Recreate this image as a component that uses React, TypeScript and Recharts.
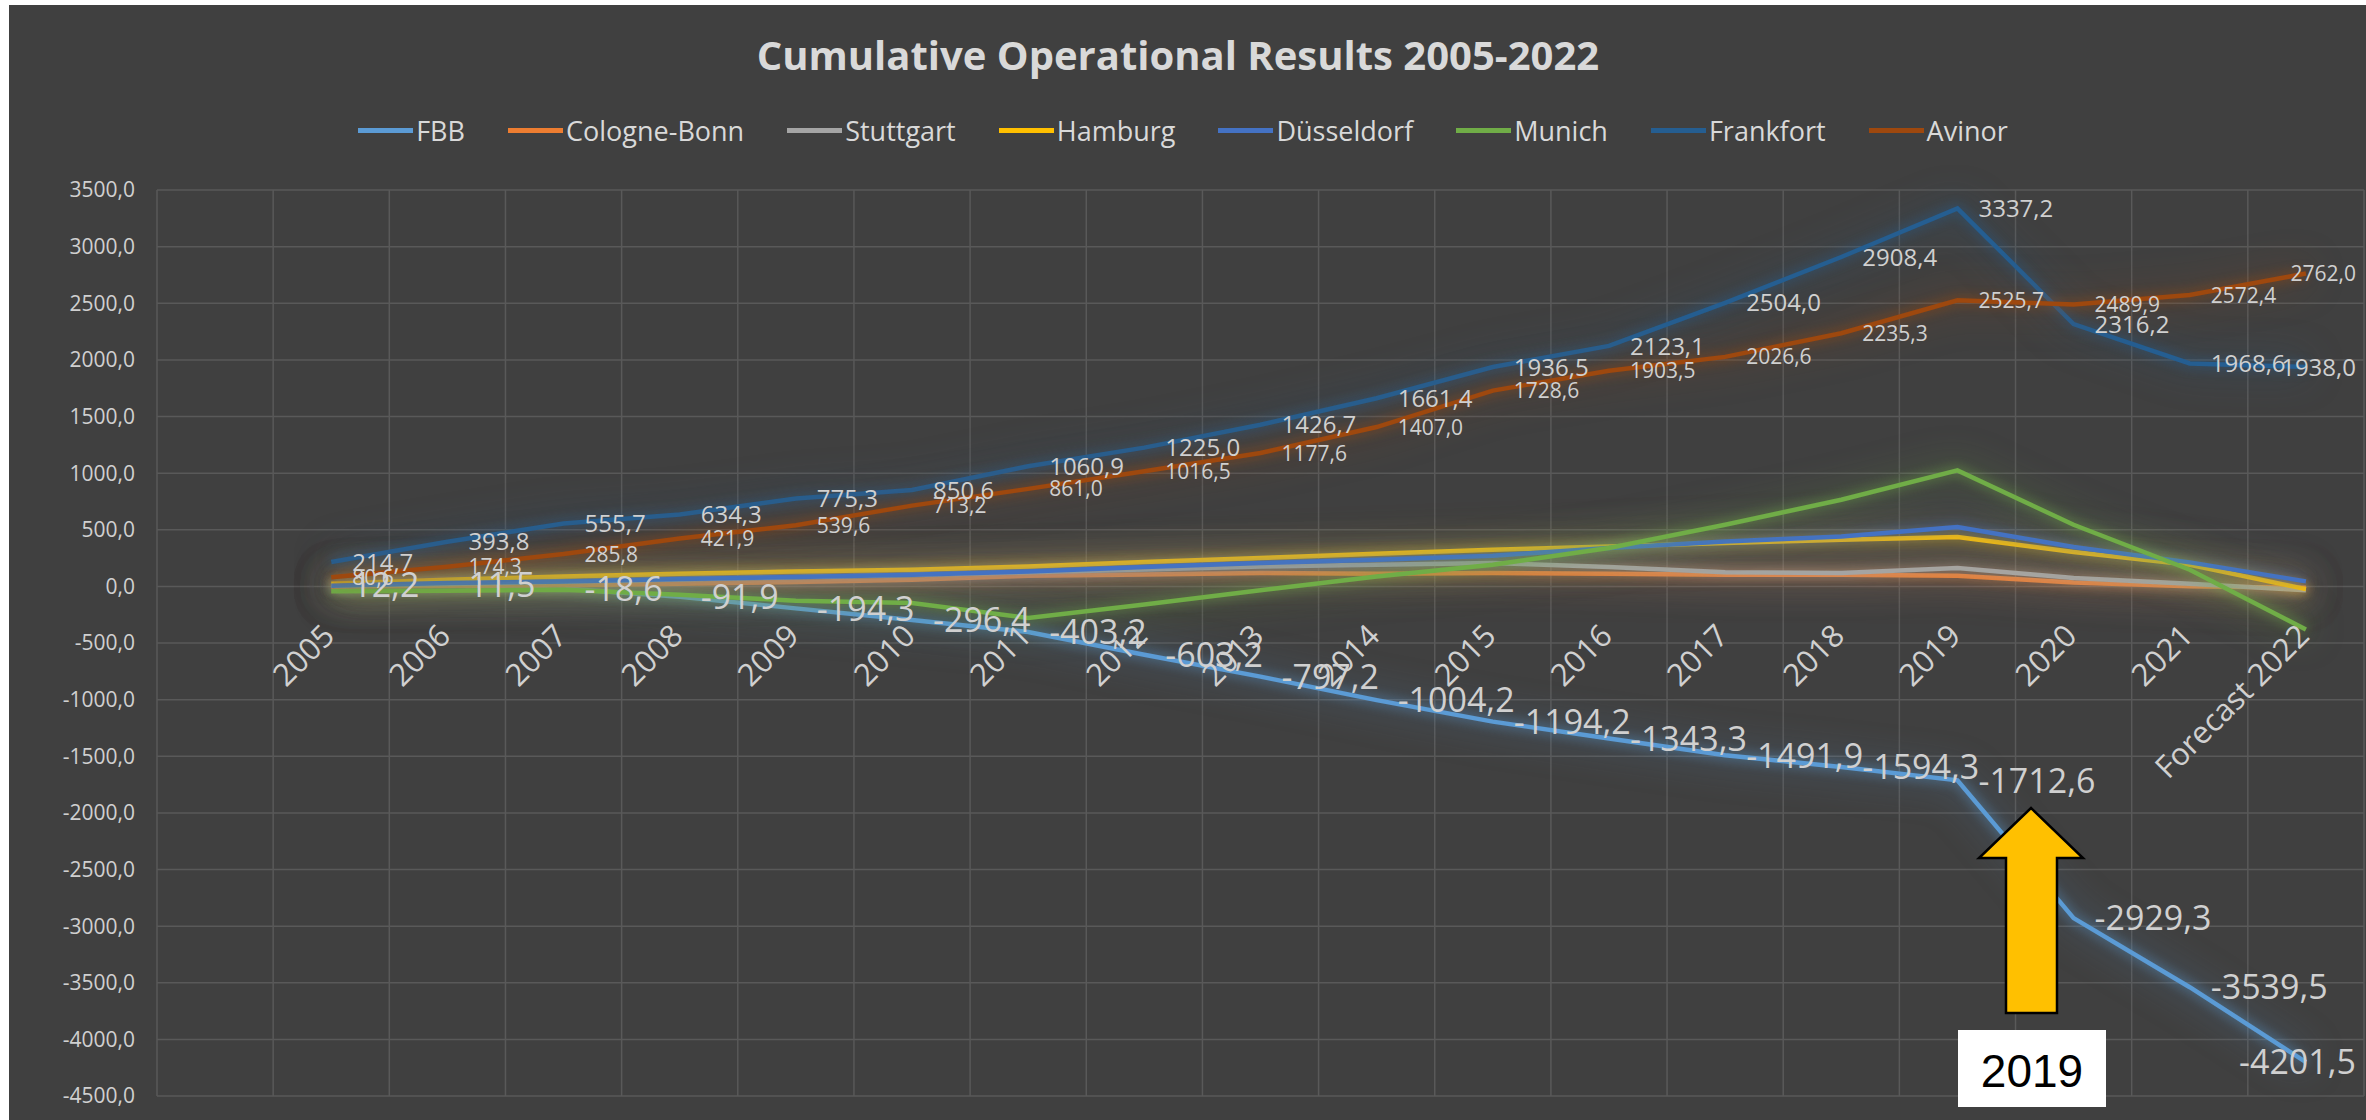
import React from 'react';
import { LineChart, Line, XAxis, YAxis, CartesianGrid, LabelList } from 'recharts';

// categories (first slot is an empty category, as in the source sheet)
const categories = [
  '', '2005', '2006', '2007', '2008', '2009', '2010', '2011', '2012', '2013',
  '2014', '2015', '2016', '2017', '2018', '2019', '2020', '2021', 'Forecast 2022',
];

const fbb = [null, 12.2, 11.5, -18.6, -91.9, -194.3, -296.4, -403.2, -603.2, -797.2, -1004.2, -1194.2, -1343.3, -1491.9, -1594.3, -1712.6, -2929.3, -3539.5, -4201.5];
const cologneBonn = [null, 0, 5, 9, 24, 38, 59, 94, 105, 118, 112, 118, 112, 103, 103, 94, 35, 0, -12];
const stuttgart = [null, 5, 20, 40, 60, 80, 100, 125, 150, 176, 191, 206, 171, 124, 118, 162, 74, 24, -35];
const hamburg = [null, 23, 59, 88, 112, 132, 147, 176, 215, 250, 288, 323, 353, 383, 412, 436, 303, 191, -24];
const dusseldorf = [null, 5, 29, 44, 65, 83, 103, 132, 170, 206, 235, 270, 339, 397, 441, 524, 347, 212, 44];
const munich = [null, -44, -38, -29, -73, -126, -147, -279, -160, -35, 88, 191, 339, 544, 765, 1024, 544, 147, -380];
const frankfort = [null, 214.7, 393.8, 555.7, 634.3, 775.3, 850.6, 1060.9, 1225.0, 1426.7, 1661.4, 1936.5, 2123.1, 2504.0, 2908.4, 3337.2, 2316.2, 1968.6, 1938.0];
const avinor = [null, 80.6, 174.3, 285.8, 421.9, 539.6, 713.2, 861.0, 1016.5, 1177.6, 1407.0, 1728.6, 1903.5, 2026.6, 2235.3, 2525.7, 2489.9, 2572.4, 2762.0];

const yTicks = [-4500, -4000, -3500, -3000, -2500, -2000, -1500, -1000, -500, 0, 500, 1000, 1500, 2000, 2500, 3000, 3500];

const series = [
  { key: 'FBB', values: fbb, color: '#5B9BD5', labelSize: 34 },
  { key: 'Cologne-Bonn', values: cologneBonn, color: '#ED7D31', labelSize: 0 },
  { key: 'Stuttgart', values: stuttgart, color: '#A5A5A5', labelSize: 0 },
  { key: 'Hamburg', values: hamburg, color: '#FFC000', labelSize: 0 },
  { key: 'Düsseldorf', values: dusseldorf, color: '#4472C4', labelSize: 0 },
  { key: 'Munich', values: munich, color: '#70AD47', labelSize: 0 },
  { key: 'Frankfort', values: frankfort, color: '#255E91', labelSize: 24 },
  { key: 'Avinor', values: avinor, color: '#9E480E', labelSize: 21 },
];

const rows = categories.map((cat, i) => {
  const row: any = { pos: i + 0.5, cat };
  series.forEach((s) => { row[s.key] = s.values[i]; });
  return row;
});

// layout
const CHART_W = 2357;
const CHART_H = 1115;
const MARGIN = { top: 185, right: 2, bottom: 23, left: 0 };
const Y_AXIS_W = 148;
const Y_MIN = -4500;
const Y_MAX = 3500;
const PLOT_W = CHART_W - MARGIN.left - MARGIN.right - Y_AXIS_W;
const PLOT_H = CHART_H - MARGIN.top - MARGIN.bottom;
const BAND = PLOT_W / categories.length;
const ZERO_Y = MARGIN.top + (Y_MAX / (Y_MAX - Y_MIN)) * PLOT_H;
const LABEL_RIGHT = CHART_W - 10;

const TEXT = '#D0D0D0';
const FONT = '"Open Sans", sans-serif';

const fmt = (v: number) => v.toFixed(1).replace('.', ',');

const XTick = (props: any) => {
  const { x, payload } = props;
  const label = categories[payload.value];
  if (!label) return null;
  const ax = x + BAND / 2 + 5;
  const ay = ZERO_Y + 51;
  return (
    <text x={ax} y={ay} transform={`rotate(-45 ${ax} ${ay})`} textAnchor="end"
      fill={TEXT} fontSize={31} fontFamily={FONT}>
      {label}
    </text>
  );
};

const makeLabel = (fontSize: number) => (props: any) => {
  const { x, y, value } = props;
  if (value === null || value === undefined) return null;
  const text = fmt(Number(value));
  const estW = text.length * fontSize * 0.56;
  let tx = x + 21;
  let anchor = 'start';
  if (tx + estW > LABEL_RIGHT) { tx = LABEL_RIGHT; anchor = 'end'; }
  return (
    <text x={tx} y={y} dy="0.36em" textAnchor={anchor} fill={TEXT}
      fontSize={fontSize} fontFamily={FONT}>
      {text}
    </text>
  );
};

const hexToRgba = (hex: string, a: number) => {
  const n = parseInt(hex.slice(1), 16);
  return `rgba(${(n >> 16) & 255},${(n >> 8) & 255},${n & 255},${a})`;
};

const cls = (k: string) => 's-' + k.replace(/[^a-zA-Z]/g, '');

const glowCss = series.map((s) =>
  `.${cls(s.key)} path.recharts-line-curve{filter:drop-shadow(0 0 6px ${hexToRgba(s.color, 0.8)}) drop-shadow(0 0 18px ${hexToRgba(s.color, 0.55)});}`
).join('\n');

const Legend = () => (
  <div style={{
    position: 'absolute', left: 0, top: 112, width: 2366, height: 36,
    display: 'flex', alignItems: 'center', justifyContent: 'center',
    fontFamily: FONT, fontSize: 27, color: '#D9D9D9',
  }}>
    {series.map((s, i) => (
      <div key={s.key} style={{ display: 'flex', alignItems: 'center', marginRight: i < series.length - 1 ? 43 : 0 }}>
        <span style={{ display: 'inline-block', width: 55, height: 5, background: s.color, marginRight: 3 }} />
        <span>{s.key}</span>
      </div>
    ))}
  </div>
);

export default function App() {
  return (
    <div style={{ position: 'absolute', left: 0, top: 0, width: 2366, height: 1120, background: '#fff', overflow: 'hidden' }}>
      <style>{glowCss}</style>
      <div style={{ position: 'absolute', left: 9, top: 5, width: CHART_W, height: CHART_H, background: '#404040' }}>
        <LineChart width={CHART_W} height={CHART_H} data={rows} margin={MARGIN}>
          <CartesianGrid stroke="#595959" strokeWidth={1.5} />
          <XAxis dataKey="pos" type="number" domain={[0, categories.length]}
            ticks={categories.map((_, i) => i).concat(categories.length)} interval={0}
            axisLine={false} tickLine={false} height={1} tick={XTick} />
          <YAxis type="number" domain={[Y_MIN, Y_MAX]} ticks={yTicks} interval={0} width={Y_AXIS_W}
            axisLine={false} tickLine={false} tickSize={0} tickMargin={22}
            tickFormatter={fmt} tick={{ fill: TEXT, fontSize: 21, fontFamily: FONT }} />
          {series.map((s) => (
            <Line key={s.key} className={cls(s.key)} dataKey={s.key} stroke={s.color} strokeWidth={4.5}
              type="linear" dot={false} activeDot={false} isAnimationActive={false} />
          ))}
          {series.filter((s) => s.labelSize > 0).map((s) => (
            <Line key={s.key + '-labels'} dataKey={s.key} stroke="none" dot={false} activeDot={false}
              legendType="none" isAnimationActive={false}>
              <LabelList dataKey={s.key} content={makeLabel(s.labelSize)} />
            </Line>
          ))}
        </LineChart>
      </div>
      <svg width={2366} height={1120} style={{ position: 'absolute', left: 0, top: 0, pointerEvents: 'none' }}>
        <text x={1178} y={70} textAnchor="middle" fill="#D9D9D9" fontSize={40} fontWeight={700} fontFamily={FONT}>
          Cumulative Operational Results 2005-2022
        </text>
        <polygon points="2031,808 2083,858 2057,858 2057,1013 2006,1013 2006,858 1979,858"
          fill="#FFC000" stroke="#000" strokeWidth={2.5} />
        <rect x={1958} y={1030} width={148} height={77} fill="#fff" />
        <text x={2032} y={1087} textAnchor="middle" fill="#000" fontSize={46} fontFamily='"Liberation Sans", Arial, sans-serif'>
          2019
        </text>
      </svg>
      <Legend />
    </div>
  );
}
